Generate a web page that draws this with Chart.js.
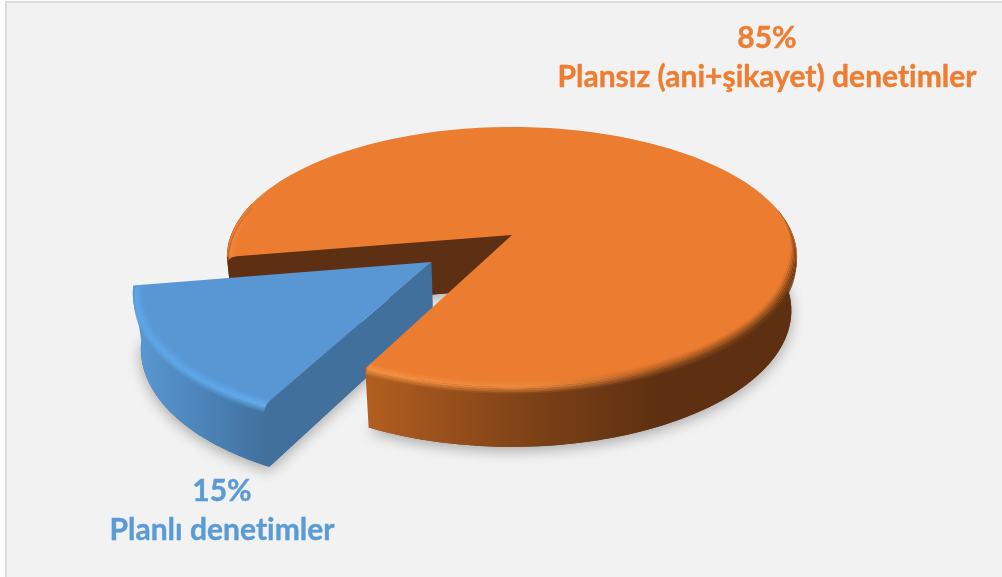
<!DOCTYPE html>
<html lang="tr">
<head>
<meta charset="utf-8">
<title>Denetimler</title>
<script src="https://cdn.jsdelivr.net/npm/chart.js@4"></script>
<style>
   html, body { margin: 0; background: #fff; }
   #frame { position: absolute; left: 5px; top: 1px; width: 997px; height: 576px; box-sizing: border-box;
      background: #f2f2f2; border-left: 2px solid #dcdcdc; border-top: 2px solid #dcdcdc; }
   #pie3d { position: absolute; left: 0; top: 0; }
</style>
</head>
<body>
<div id="frame"></div>
<canvas id="pie3d" width="1002" height="577"></canvas>
<script>
const categories = ["Planlı denetimler", "Plansız (ani+şikayet) denetimler"];
const shares = [15, 85];
const explode = [0.345, 0];
const faceColors = ["#5897d4", "#eb7c30"];

/* camera of the tilted disc : centre, radii, perspective, thickness */
const CAM = {x: 512, y: 235, rx: 281, ry: 126.3, p: 0.169, depth: 54, q: 0.02};
const STEPS = 90;
const rad = (d) => d * Math.PI / 180;

function proj(u, v, z) {
   let w = 1 - CAM.p * v + CAM.q * z;
   return [CAM.x + CAM.rx * u / w, CAM.y + (CAM.ry * v + CAM.depth * z) / w];
}

function rim(a0, a1, r, z, off, taper) {
   let pts = [];
   for (let i = 0; i <= STEPS; i++) {
      let a = a0 + (a1 - a0) * i / STEPS;
      let k = taper ? Math.min(1, (a - taper) / rad(30)) : 1;
      let rr = 1 - (1 - r) * k;
      pts.push(proj(off[0] + rr * Math.cos(a), off[1] + rr * Math.sin(a), z * k));
   }
   return pts;
}

function fillPts(ctx, pts, fill) {
   ctx.beginPath();
   pts.forEach((p, i) => i ? ctx.lineTo(p[0], p[1]) : ctx.moveTo(p[0], p[1]));
   ctx.closePath();
   ctx.fillStyle = fill;
   ctx.fill();
}

function hgrad(ctx, stops) {
   let x0 = stops[0][0], x1 = stops[stops.length - 1][0];
   let g = ctx.createLinearGradient(x0, 0, x1, 0);
   stops.forEach((s) => g.addColorStop((s[0] - x0) / (x1 - x0), s[1]));
   return g;
}

function mix(a, b, t) {
   let ca = [1, 3, 5].map((i) => parseInt(a.substr(i, 2), 16));
   let cb = [1, 3, 5].map((i) => parseInt(b.substr(i, 2), 16));
   return "rgb(" + ca.map((c, i) => Math.round(c + (cb[i] - c) * t)).join(",") + ")";
}

function sideWall(ctx, a0, a1, off, fill) {
   fillPts(ctx, rim(a0, a1, 1, 0, off).concat(rim(a1, a0, 1, 1, off)), fill);
}

function cutWall(ctx, a, off, fill) {
   let c = [off[0] + Math.cos(a), off[1] + Math.sin(a)];
   fillPts(ctx, [proj(off[0], off[1], 0), proj(c[0], c[1], 0), proj(c[0], c[1], 1), proj(off[0], off[1], 1)], fill);
}

function face(ctx, a0, a1, off, fill) {
   fillPts(ctx, [proj(off[0], off[1], 0)].concat(rim(a0, a1, 1, 0, off)), fill);
}

function silhouette(ctx, a0, a1, off, fill) {
   fillPts(ctx, [proj(off[0], off[1], 1)].concat(rim(a0, a1, 1, 1, off)), fill);
}

/* rounded edge between the top face and the wall */
function bevel(ctx, a0, a1, off, base, xs, hi, wall, taper) {
   const N = 8;
   for (let i = N - 1; i >= 0; i--) {
      let t0 = i / N, t1 = (i + 1) / N;
      let r0 = 0.965 + 0.035 * Math.sin(t0 * Math.PI / 2), z0 = 0.11 * (1 - Math.cos(t0 * Math.PI / 2));
      let r1 = 0.965 + 0.035 * Math.sin(t1 * Math.PI / 2), z1 = 0.11 * (1 - Math.cos(t1 * Math.PI / 2));
      let t = (t0 + t1) / 2;
      let stops = xs.map((x, s) => [x, t < 0.5 ? mix(base, hi[s], t / 0.5) : mix(hi[s], wall[s], (t - 0.5) / 0.5)]);
      fillPts(ctx, rim(a0, a1, r0, z0, off, taper).concat(rim(a1, a0, r1, z1, off, taper)), hgrad(ctx, stops));
   }
}

const pie3dPlugin = {
   id: "pie3d",
   beforeDatasetDraw(chart) {
      const ctx = chart.ctx;
      let arcs = chart.getDatasetMeta(0).data;
      let blue = arcs[0], orange = arcs[1];
      let mid = (blue.startAngle + blue.endAngle) / 2;
      let bOff = [explode[0] * Math.cos(mid), explode[0] * Math.sin(mid)], oOff = [0, 0];
      let oA0 = orange.startAngle, oA1 = orange.endAngle;
      let bA0 = blue.startAngle, bA1 = blue.endAngle;

      /* orange: shadow, back wall and the short left piece of its side */
      ctx.save();
      ctx.shadowColor = "rgba(0,0,0,0.3)";
      ctx.shadowBlur = 14;
      ctx.shadowOffsetY = 4;
      silhouette(ctx, oA0, oA1, oOff, "#5e3011");
      ctx.restore();
      cutWall(ctx, oA0, oOff, "#5e3013");
      sideWall(ctx, oA0, rad(195), oOff, "#5e3011");

      /* blue slice */
      ctx.save();
      ctx.shadowColor = "rgba(0,0,0,0.3)";
      ctx.shadowBlur = 14;
      ctx.shadowOffsetY = 4;
      silhouette(ctx, bA0, bA1, bOff, "#41709c");
      ctx.restore();
      sideWall(ctx, bA0, bA1, bOff, hgrad(ctx, [[133, "#5b98d2"], [200, "#4c85bb"], [267, "#41709c"]]));
      cutWall(ctx, bA0, bOff, "#41709c");
      face(ctx, bA0, bA1, bOff, faceColors[0]);
      bevel(ctx, bA0, bA1, bOff, faceColors[0], [133, 200, 267], ["#5fa8ea", "#5fa9ec", "#64afef"], ["#5b98d2", "#4c85bb", "#41709c"]);

      /* orange: outer wall, top face, rounded edge */
      sideWall(ctx, rad(-12), oA1 - 2 * Math.PI, oOff, hgrad(ctx, [[367, "#b25e20"], [540, "#7a4016"], [660, "#5e3011"], [800, "#5e3011"]]));
      face(ctx, oA0, oA1, oOff, faceColors[1]);
      bevel(ctx, rad(-12), oA1 - 2 * Math.PI, oOff, faceColors[1], [367, 540, 660, 800], ["#f59343", "#ec8a3d", "#a5591f", "#6e3a14"], ["#b25e20", "#7a4016", "#5e3011", "#5e3011"], rad(-12));
      bevel(ctx, oA0, rad(195), oOff, faceColors[1], [228, 300], ["#f28a3a", "#eb7c30"], ["#5e3011", "#5e3011"]);
      return false;
   },
   afterDatasetsDraw(chart) {
      const ctx = chart.ctx;
      ctx.save();
      ctx.textAlign = "center";
      ctx.font = "bold 30px Lato";
      ctx.letterSpacing = "0.01px";
      ctx.lineWidth = 0.4;
      ctx.fillStyle = ctx.strokeStyle = "#ed7d31";
      [[shares[1] + "%", 767, 48], [categories[1], 767, 87]].forEach((t) => {
         ctx.fillText(t[0], t[1], t[2]);
         ctx.strokeText(t[0], t[1], t[2]);
      });
      ctx.fillStyle = ctx.strokeStyle = "#5b9bd5";
      [[shares[0] + "%", 222, 501], [categories[0], 222, 540]].forEach((t) => {
         ctx.fillText(t[0], t[1], t[2]);
         ctx.strokeText(t[0], t[1], t[2]);
      });
      ctx.restore();
   }
};

new Chart(document.getElementById("pie3d"), {
   type: "pie",
   data: {
      labels: categories,
      datasets: [{data: shares, backgroundColor: faceColors, borderWidth: 0}]
   },
   options: {
      responsive: false,
      animation: false,
      rotation: 206.3,
      plugins: {legend: {display: false}, tooltip: {enabled: false}}
   },
   plugins: [pie3dPlugin]
});
</script>
</body>
</html>
